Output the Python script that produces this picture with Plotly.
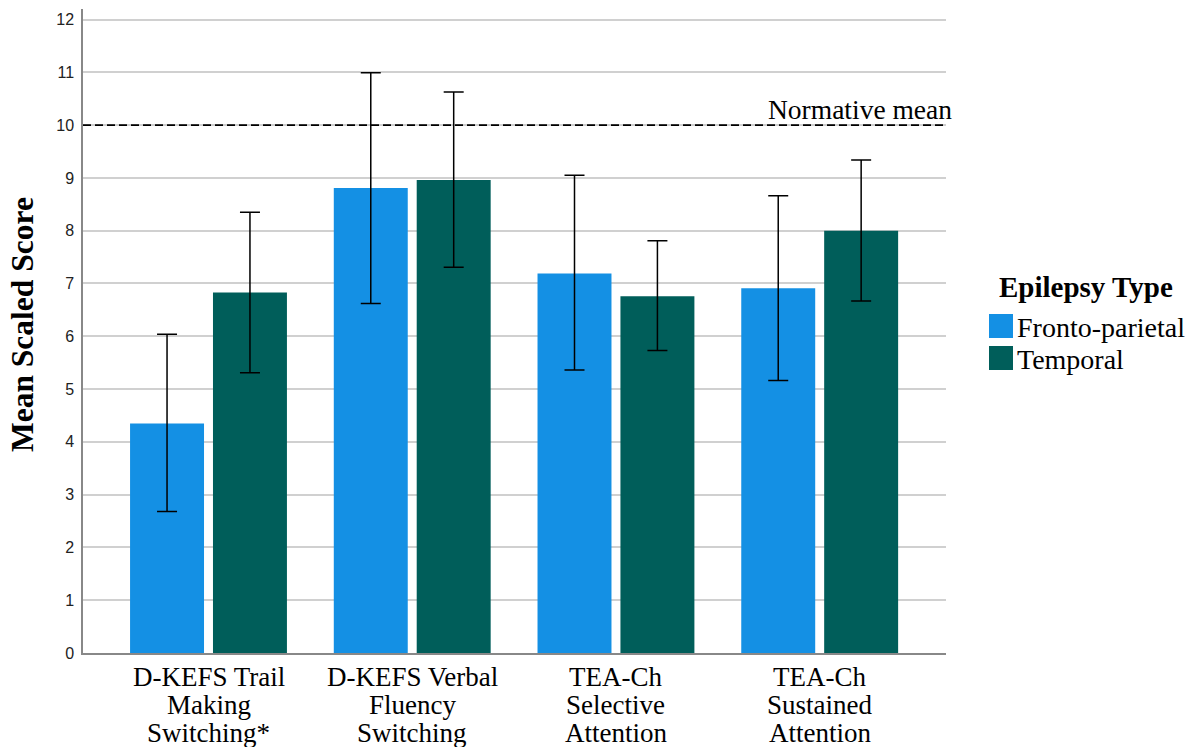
import plotly.graph_objects as go

# Test categories and group means with 95% CI bounds
categories = [
    "D-KEFS Trail<br>Making<br>Switching*",
    "D-KEFS Verbal<br>Fluency<br>Switching",
    "TEA-Ch<br>Selective<br>Attention",
    "TEA-Ch<br>Sustained<br>Attention",
]
series_names = ["Fronto-parietal", "Temporal"]
series_colors = ["#1490E4", "#005E5A"]

fp_mean = [4.35, 8.81, 7.19, 6.91]
fp_upper = [6.04, 10.99, 9.05, 8.66]
fp_lower = [2.68, 6.62, 5.36, 5.16]

tp_mean = [6.83, 8.96, 6.76, 8.00]
tp_upper = [8.35, 10.63, 7.81, 9.34]
tp_lower = [5.31, 7.31, 5.73, 6.67]

normative_mean = 10
y_ticks = list(range(0, 13))

SERIF = "Liberation Serif, Times New Roman, serif"
SANS = "Liberation Sans, Arial, sans-serif"

fig = go.Figure()
for name, color, mean, up, lo in [
    (series_names[0], series_colors[0], fp_mean, fp_upper, fp_lower),
    (series_names[1], series_colors[1], tp_mean, tp_upper, tp_lower),
]:
    fig.add_trace(go.Bar(
        x=list(range(len(categories))),
        y=mean,
        name=name,
        marker=dict(color=color, line=dict(width=0)),
        error_y=dict(
            type="data", symmetric=False,
            array=[u - m for u, m in zip(up, mean)],
            arrayminus=[m - l for m, l in zip(mean, lo)],
            color="black", thickness=1.5, width=10,
        ),
        showlegend=False,
    ))

# Category labels: one annotation per line for tight line spacing
for i, label in enumerate(categories):
    for k, line in enumerate(label.split("<br>")):
        fig.add_annotation(xref="x", x=i, yref="paper", y=0,
                           text=line, showarrow=False,
                           xanchor="center", yanchor="middle",
                           yshift=-(24 + 28 * k),
                           font=dict(family=SERIF, size=27, color="black"))

# Reference line for the normative mean
fig.add_shape(type="line", xref="paper", x0=0, x1=1, yref="y",
              y0=normative_mean, y1=normative_mean,
              line=dict(color="black", width=1.6, dash="8px,4px"))
fig.add_annotation(xref="paper", x=1.009, yref="y", y=normative_mean,
                   text="Normative mean", showarrow=False,
                   xanchor="right", yanchor="bottom", yshift=-2,
                   font=dict(family=SERIF, size=27.5, color="black"))

# Plot-area geometry in pixels, used to place the legend block
L, R, T, B = 83, 946, 9, 653
def px(xp):
    return (xp - L) / (R - L)
def py(yp):
    return (B - yp) / (B - T)

fig.add_annotation(xref="paper", yref="paper", x=px(1086), y=py(287),
                   text="<b>Epilepsy Type</b>", showarrow=False,
                   xanchor="center", yanchor="middle",
                   font=dict(family=SERIF, size=29, color="black"))
for i, (name, color) in enumerate(zip(series_names, series_colors)):
    top = 314 + i * 32
    fig.add_shape(type="rect", xref="paper", yref="paper",
                  x0=px(989), x1=px(1013), y0=py(top), y1=py(top + 24),
                  fillcolor=color, line=dict(width=0))
    fig.add_annotation(xref="paper", yref="paper", x=px(1015), y=py(top + 13),
                       text=name, showarrow=False, xanchor="left", yanchor="middle",
                       font=dict(family=SERIF, size=28, color="black"))

# Y-axis title placed as text so its vertical centre can be set
fig.add_annotation(xref="paper", yref="paper", x=px(22), y=py(325),
                   text="<b>Mean Scaled Score</b>", showarrow=False, textangle=-90,
                   xanchor="center", yanchor="middle",
                   font=dict(family=SERIF, size=31.5, color="black"))

fig.update_layout(
    width=1194, height=747,
    margin=dict(l=L, r=1194 - R, t=T, b=747 - B),
    paper_bgcolor="white", plot_bgcolor="white",
    barmode="group", bargap=0.186, bargroupgap=0.108,
    xaxis=dict(
        range=[-0.616, 3.62], automargin=False,
        tickmode="array", tickvals=list(range(len(categories))),
        showticklabels=False,
        showgrid=False, zeroline=False,
        showline=True, linecolor="#888888", linewidth=1.5, ticks="",
    ),
    yaxis=dict(
        range=[0, 12.2], tickvals=y_ticks, automargin=False,
        tickfont=dict(family=SANS, size=16, color="#222222"),
        showgrid=True, gridcolor="#d0d0d0", gridwidth=1.5,
        zeroline=False, showline=True, linecolor="#888888", linewidth=1.5,
        ticks="", ticklabelstandoff=4,
    ),
)

fig.write_html("out.html")
